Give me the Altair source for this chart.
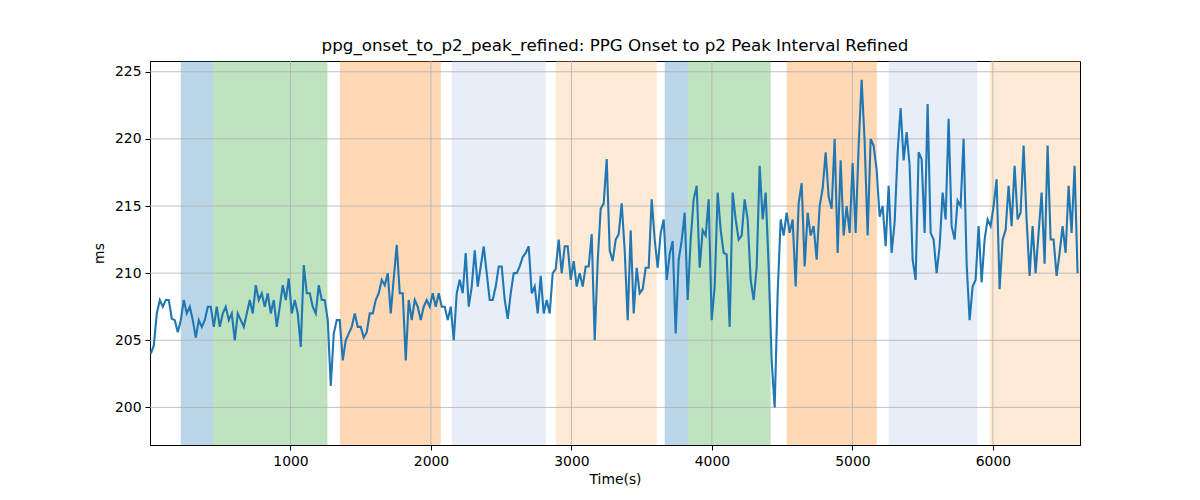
import altair as alt
import pandas as pd

TITLE = "ppg_onset_to_p2_peak_refined: PPG Onset to p2 Peak Interval Refined"

# trace sampling (s)
T_START = 5.7
T_STEP = 21.35

# interval values (ms) left to right
ms_values = [
    # 0 - 1100 s
    204.0, 204.6, 207.0, 208.0, 207.5, 208.0, 208.0, 206.6, 206.5, 205.6,
    206.5, 208.0, 207.0, 207.5, 206.5, 205.2, 206.5, 206.0, 206.5, 207.5,
    207.5, 206.0, 207.5, 206.0, 207.0, 207.5, 206.5, 207.0, 205.0, 207.0,
    206.5, 206.0, 207.0, 208.0, 207.0, 209.1, 208.0, 208.5, 207.5, 208.5,
    207.0, 208.0, 206.0, 207.5, 209.1, 208.0, 209.6, 207.0, 208.0, 207.0,
    204.5, 210.6, 208.5,
    # 1100 - 2250 s
    208.5, 207.5, 207.0, 209.1, 208.0, 208.0, 206.5, 201.6, 205.5, 206.5,
    206.5, 203.5, 205.0, 205.5, 206.0, 207.0, 206.0, 206.0, 205.2, 205.6,
    207.0, 207.0, 208.0, 208.5, 209.5, 209.1, 210.0, 207.0, 209.6, 212.1,
    208.5, 208.5, 203.5, 208.0, 206.5, 208.0, 207.5, 206.5, 207.5, 208.0,
    207.5, 208.5, 207.5, 208.5, 207.5, 207.5, 206.5, 207.5, 205.0, 208.5,
    209.5, 208.5, 211.5,
    # 2250 - 3400 s
    207.5, 209.0, 211.7, 209.0, 210.5, 212.0, 210.0, 208.0, 208.0, 209.0,
    210.5, 210.5, 208.0, 206.6, 208.5, 210.0, 210.0, 210.5, 211.2, 211.5,
    212.0, 208.5, 209.0, 207.0, 209.8, 207.0, 208.0, 207.0, 210.0, 210.3,
    212.5, 210.0, 212.0, 212.0, 209.5, 210.9, 209.0, 210.0, 209.0, 210.5,
    210.5, 212.9, 205.0, 210.9, 214.8, 215.2, 218.5, 211.7, 210.9, 212.5,
    212.9, 215.2, 211.7, 206.5,
    # 3400 - 4550 s
    213.2, 207.0, 210.4, 208.5, 208.8, 210.4, 210.4, 215.5, 212.5, 210.4,
    213.0, 214.0, 209.5, 211.4, 212.4, 205.5, 211.0, 212.4, 214.5, 208.0,
    212.5, 215.5, 216.5, 210.4, 213.2, 212.8, 215.5, 206.5, 209.0, 216.0,
    213.2, 211.5, 211.4, 206.0, 216.0, 214.0, 212.5, 212.8, 215.5, 214.0,
    209.5, 208.0, 210.4, 218.0, 214.0, 216.0, 210.5, 203.5, 200.0, 208.5,
    214.0, 212.8, 214.5,
    # 4550 - 5700 s
    213.0, 214.0, 209.0, 215.2, 216.7, 210.5, 214.5, 212.8, 213.5, 211.0,
    215.0, 216.3, 219.0, 215.7, 214.8, 220.0, 211.5, 218.4, 212.8, 215.0,
    213.0, 218.2, 213.0, 219.5, 224.4, 219.8, 212.8, 220.0, 219.5, 217.7,
    214.2, 215.0, 212.0, 216.5, 211.5, 213.8, 219.0, 222.3, 218.4, 220.5,
    218.0, 211.0, 209.5, 219.0, 218.5, 213.0, 222.6, 213.0, 212.5, 210.0,
    212.0, 216.0, 214.0, 221.5,
    # 5700 - 6620 s
    213.5, 212.5, 215.4, 215.0, 220.0, 210.7, 206.5, 209.0, 209.5, 213.5,
    209.3, 212.5, 214.0, 213.5, 215.0, 217.0, 208.8, 212.5, 213.2, 216.5,
    213.5, 218.0, 214.0, 214.5, 219.5, 214.0, 209.8, 213.5, 210.0, 213.0,
    216.0, 210.7, 219.5, 212.5, 212.5, 209.8, 211.5, 213.5, 211.5, 216.5,
    213.0, 218.0, 210.0,
]
time_s = [T_START + T_STEP * i for i in range(len(ms_values))]

# shaded segments
span_start = [219, 449, 1351, 2148, 2888, 3664, 3828, 4532, 5258, 5977]
span_end = [449, 1263, 2070, 2817, 3607, 3828, 4418, 5174, 5890, 6620]
span_color = ["#1f77b4", "#2ca02c", "#ff7f0e", "#aec7e8", "#ffbb78",
              "#1f77b4", "#2ca02c", "#ff7f0e", "#aec7e8", "#ffbb78"]

x_ticks = [1000, 2000, 3000, 4000, 5000, 6000]
y_ticks = [200, 205, 210, 215, 220, 225]
X_DOMAIN = [0, 6620]
Y_DOMAIN = [197.2, 225.8]

trace = pd.DataFrame({"t": time_s, "ms": ms_values})
spans = pd.DataFrame({"start": span_start, "end": span_end, "color": span_color})

x_scale = alt.Scale(domain=X_DOMAIN, nice=False, zero=False)
y_scale = alt.Scale(domain=Y_DOMAIN, nice=False, zero=False)

FONT = "DejaVu Sans"

spans_layer = (
    alt.Chart(spans)
    .mark_rect(opacity=0.3, clip=True)
    .encode(
        x=alt.X("start:Q", scale=x_scale),
        x2="end:Q",
        color=alt.Color("color:N", scale=None),
    )
)

# grid sits above the shading but under the trace
grid_x = (
    alt.Chart(pd.DataFrame({"t": x_ticks}))
    .mark_rule(color="#b0b0b0", strokeWidth=0.8)
    .encode(x=alt.X("t:Q", scale=x_scale))
)
grid_y = (
    alt.Chart(pd.DataFrame({"ms": y_ticks}))
    .mark_rule(color="#b0b0b0", strokeWidth=0.8)
    .encode(y=alt.Y("ms:Q", scale=y_scale))
)

line_layer = (
    alt.Chart(trace)
    .mark_line(color="#1f77b4", strokeWidth=2.1, clip=True)
    .encode(
        x=alt.X(
            "t:Q", scale=x_scale, title="Time(s)",
            axis=alt.Axis(values=x_ticks, format="d", grid=False, titlePadding=5),
        ),
        y=alt.Y(
            "ms:Q", scale=y_scale, title="ms",
            axis=alt.Axis(values=y_ticks, format="d", grid=False, titlePadding=8),
        ),
    )
)

chart = (
    alt.layer(spans_layer, grid_x, grid_y, line_layer)
    .properties(
        width=930,
        height=384,
        autosize=alt.AutoSizeParams(type="none"),
        padding={"left": 142, "top": 53, "right": 110, "bottom": 45},
        title=alt.TitleParams(
            TITLE, font=FONT, fontSize=16.7, fontWeight="normal",
            color="black", anchor="middle", offset=6,
        ),
    )
    .configure_axis(
        labelFont=FONT, titleFont=FONT, labelFontSize=13.9, titleFontSize=13.9,
        titleFontWeight="normal", labelColor="black", titleColor="black",
        domainColor="black", tickColor="black", tickSize=5, labelPadding=4,
    )
    .configure_view(stroke="black", strokeWidth=1)
)

chart.save("out.html", embed_options={"renderer": "svg", "actions": False})
